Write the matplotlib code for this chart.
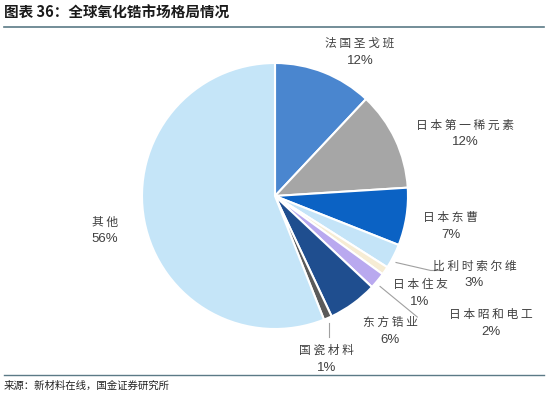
import matplotlib.pyplot as plt
from matplotlib.lines import Line2D

plt.rcParams['font.family'] = ['Noto Sans CJK SC', 'DejaVu Sans']

names = ['法国圣戈班', '日本第一稀元素', '日本东曹', '比利时索尔维', '日本住友',
         '日本昭和电工', '东方锆业', '国瓷材料', '其他']
shares = [12, 12, 7, 3, 1, 2, 6, 1, 56]
colors = ['#4a86cf', '#a6a6a6', '#0b62c4', '#c4e4f8', '#f6ecd4',
          '#b9a9ef', '#1f4e8f', '#5a5a5a', '#c5e5f8']

# label block positions (pie axes coords, radius = 1)
label_pos = [(0.64, 1.08), (1.43, 0.47), (1.32, -0.23), (1.50, -0.59), (1.09, -0.73),
             (1.62, -0.955), (0.865, -1.015), (0.39, -1.225), (-1.28, -0.26)]
leaders = {
    3: [(0.91, -0.50), (1.17, -0.56), (1.26, -0.56)],
    5: [(0.79, -0.68), (1.07, -0.91)],
    7: [(0.406, -0.955), (0.406, -1.06)],
}

W, H = 548, 396
fig = plt.figure(figsize=(W / 100, H / 100), dpi=100)

cx, cy, r = 275, 196, 133
ax = fig.add_axes([(cx - r) / W, (H - cy - r) / H, 2 * r / W, 2 * r / H])
ax.pie(shares, colors=colors, startangle=90, counterclock=False,
       wedgeprops=dict(edgecolor='white', linewidth=1.5))
ax.set_xlim(-1, 1)
ax.set_ylim(-1, 1)
ax.set_aspect('equal')
ax.axis('off')

for i, (n, s) in enumerate(zip(names, shares)):
    x, y = label_pos[i]
    ax.text(x, y + 0.065, ' '.join(n), ha='center', va='center', fontsize=8.5,
            color='#404040', clip_on=False)
    ax.text(x, y - 0.065, f'{s}%', ha='center', va='center', fontsize=9.5,
            color='#404040', family=['Liberation Sans', 'DejaVu Sans'], clip_on=False)

for pts in leaders.values():
    xs = [p[0] for p in pts]
    ys = [p[1] for p in pts]
    ax.plot(xs, ys, color='#a0a0a0', lw=0.8, clip_on=False)

fig.text(4 / W, 1 - 13 / H, '图表 36：全球氧化锆市场格局情况', fontsize=10.5,
         fontweight='bold', style='italic', color='#1a1a1a', va='center', ha='left')
fig.add_artist(Line2D([4 / W, 544 / W], [1 - 27 / H, 1 - 27 / H], color='#5b7a86', lw=1.2))
fig.add_artist(Line2D([4 / W, 544 / W], [1 - 375 / H, 1 - 375 / H], color='#5b7a86', lw=1.0))
fig.text(4 / W, 1 - 386 / H, '来源：新材料在线，国金证券研究所', fontsize=7.5,
         color='#222222', va='center', ha='left')

fig.savefig('out.png', dpi=100)
